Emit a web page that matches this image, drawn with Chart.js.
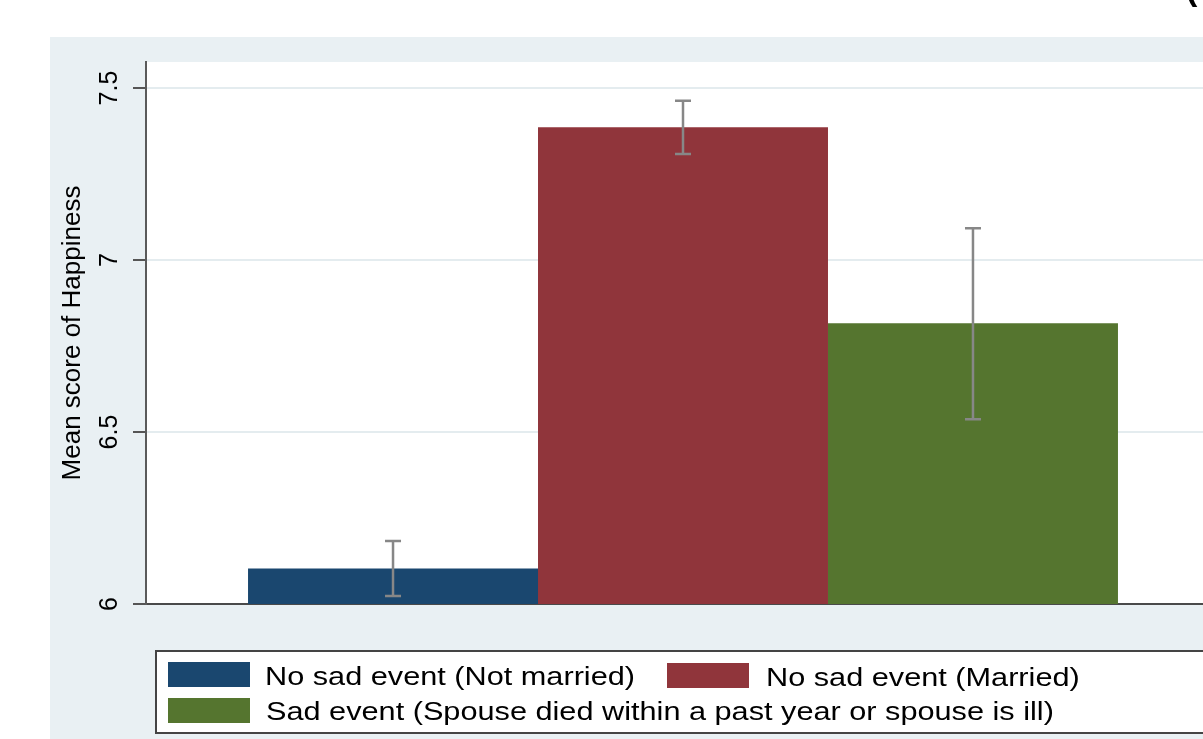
<!DOCTYPE html>
<html>
<head>
<meta charset="utf-8">
<title>Mean score of Happiness</title>
<script src="https://cdn.jsdelivr.net/npm/chart.js@4/dist/chart.umd.min.js"></script>
<style>
  html, body { margin: 0; padding: 0; overflow: hidden; background: #fff; }
  canvas { display: block; }
</style>
</head>
<body>
<canvas id="happiness" width="1240" height="739"></canvas>
<script>
const groups = [
    'No sad event (Not married)',
    'No sad event (Married)',
    'Sad event (Spouse died within a past year or spouse is ill)'
];
const means = [6.103, 7.386, 6.816];
const ciLow = [6.023, 7.308, 6.537];
const ciHigh = [6.183, 7.463, 7.092];
const yTicks = [6, 6.5, 7, 7.5];
const yTickLabels = ['6', '6.5', '7', '7.5'];

const barColors = ['#1a476f', '#90353b', '#55752f'];
const panelColor = '#e9f0f3';
const fontFamily = '"Liberation Sans", Arial, Helvetica, sans-serif';

Chart.defaults.font.family = fontFamily;
Chart.defaults.color = '#000';

// grey graph region, white plot region, and the clipped glyph at the top edge
const background = {
    id: 'background',
    beforeDraw(chart) {
        const { ctx, width, height, chartArea } = chart;
        ctx.save();
        ctx.fillStyle = '#fff';
        ctx.fillRect(0, 0, width, height);
        ctx.fillStyle = panelColor;
        ctx.fillRect(50, 37, width - 50, height - 37);
        ctx.fillStyle = '#fff';
        ctx.fillRect(chartArea.left, chartArea.top, chartArea.right - chartArea.left, chartArea.bottom - chartArea.top);
        ctx.fillStyle = '#000';
        ctx.font = 'bold 34px ' + fontFamily;
        ctx.textBaseline = 'alphabetic';
        ctx.fillText('(', 1186, 0);
        ctx.restore();
    }
};

// confidence intervals on top of each bar
const errorBars = {
    id: 'errorBars',
    afterDatasetsDraw(chart) {
        const { ctx } = chart;
        const y = chart.scales.y;
        ctx.save();
        ctx.strokeStyle = '#878787';
        ctx.lineWidth = 2.5;
        chart.data.datasets.forEach((ds, i) => {
            const bar = chart.getDatasetMeta(i).data[0];
            const top = y.getPixelForValue(ciHigh[i]);
            const bottom = y.getPixelForValue(ciLow[i]);
            ctx.beginPath();
            ctx.moveTo(bar.x, top);
            ctx.lineTo(bar.x, bottom);
            ctx.moveTo(bar.x - 8, top);
            ctx.lineTo(bar.x + 8, top);
            ctx.moveTo(bar.x - 8, bottom);
            ctx.lineTo(bar.x + 8, bottom);
            ctx.stroke();
        });
        ctx.restore();
    }
};

// boxed legend below the plot, two rows
const legendBox = {
    id: 'legendBox',
    afterDraw(chart) {
        const { ctx } = chart;
        const slots = [
            { x: 168, y: 662, w: 82, textX: 265, base: 685 },
            { x: 667, y: 663, w: 82, textX: 766, base: 686 },
            { x: 168, y: 698, w: 82, textX: 266, base: 720 }
        ];
        ctx.save();
        ctx.fillStyle = '#fff';
        ctx.fillRect(156, 651, 1060, 82);
        ctx.strokeStyle = '#444';
        ctx.lineWidth = 2;
        ctx.strokeRect(156, 651, 1060, 82);
        ctx.font = '26px ' + fontFamily;
        ctx.textBaseline = 'alphabetic';
        chart.data.datasets.forEach((ds, i) => {
            const s = slots[i];
            ctx.fillStyle = ds.backgroundColor;
            ctx.fillRect(s.x, s.y, s.w, 25);
            ctx.fillStyle = '#000';
            ctx.save();
            ctx.translate(s.textX, s.base);
            ctx.scale(1.18, 1);
            ctx.fillText(ds.label, 0, 0);
            ctx.restore();
        });
        ctx.restore();
    }
};

new Chart(document.getElementById('happiness'), {
    type: 'bar',
    data: {
        labels: [''],
        datasets: groups.map((name, i) => ({
            label: name,
            data: [means[i]],
            backgroundColor: barColors[i],
            borderWidth: 0,
            barPercentage: 1,
            categoryPercentage: 0.81
        }))
    },
    options: {
        responsive: false,
        animation: false,
        layout: { padding: { left: 0, top: 62, right: 20, bottom: 135 } },
        plugins: {
            legend: { display: false },
            tooltip: { enabled: false }
        },
        scales: {
            x: {
                z: 1,
                grid: { display: false, drawTicks: false },
                ticks: { display: false },
                border: { display: true, color: '#4a4a4a', width: 2 },
                afterFit(scale) { scale.height = 0; }
            },
            y: {
                min: 6,
                max: 7.5756,
                afterBuildTicks(scale) {
                    scale.ticks = yTicks.map(v => ({ value: v }));
                },
                afterFit(scale) { scale.width = 146; },
                grid: {
                    color: '#e4ecef',
                    lineWidth: 2,
                    tickColor: '#555',
                    tickWidth: 2,
                    tickLength: 13
                },
                border: { display: true, color: '#5a5a5a', width: 2 },
                ticks: {
                    minRotation: 90,
                    maxRotation: 90,
                    crossAlign: 'center',
                    padding: 6,
                    color: '#000',
                    font: { size: 25 },
                    callback: (value, index) => yTickLabels[index]
                },
                title: {
                    display: true,
                    text: 'Mean score of Happiness',
                    color: '#000',
                    font: { size: 26 },
                    padding: { top: 57, bottom: 0 }
                }
            }
        }
    },
    plugins: [background, errorBars, legendBox]
});
</script>
</body>
</html>
